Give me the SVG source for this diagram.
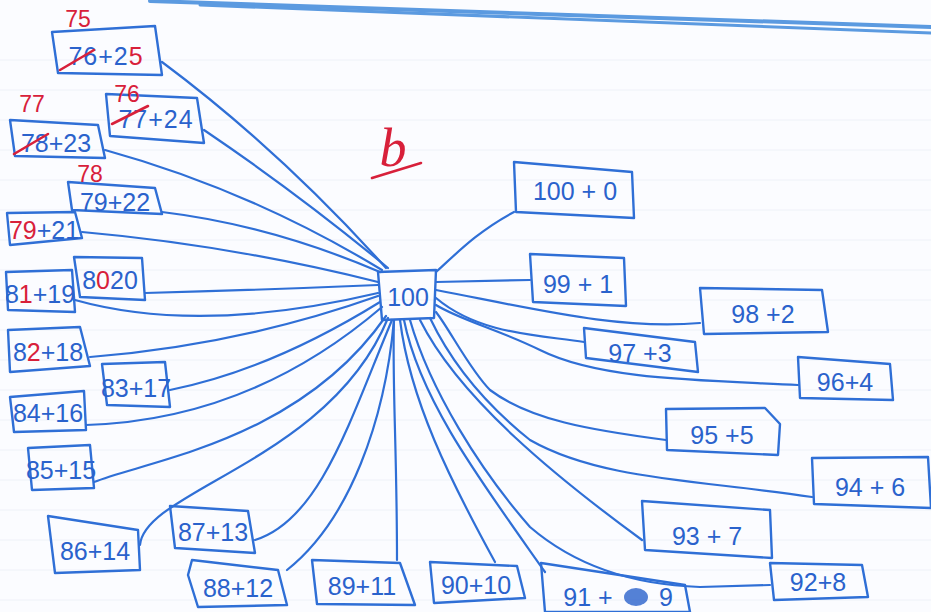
<svg xmlns="http://www.w3.org/2000/svg" width="931" height="612" viewBox="0 0 931 612">
<style>
.box{fill:none;stroke:#2f6fd6;stroke-width:2.4;stroke-linejoin:round}
.t{font-family:"Liberation Sans","DejaVu Sans",sans-serif;font-size:25px;fill:#2a62cc;text-anchor:middle}
.r{fill:#d8203a}
.rt{font-family:"Liberation Sans","DejaVu Sans",sans-serif;font-size:23px;fill:#d8203a;text-anchor:middle}
.rs{stroke:#d8203a;stroke-width:2.6;fill:none;stroke-linecap:round}
.c{fill:none;stroke:#2f6fd6;stroke-width:2.2;stroke-linecap:round}
</style>
<rect width="931" height="612" fill="#fbfcff"/>
<g id="paper" stroke="#eef1f8" stroke-width="1">
<path d="M0,60H931M0,90H931M0,120H931M0,150H931M0,180H931M0,210H931M0,240H931M0,270H931M0,300H931M0,330H931M0,360H931M0,390H931M0,420H931M0,450H931M0,480H931M0,510H931M0,540H931M0,570H931M0,600H931"/>
</g>
<g id="margin" fill="none" stroke="#5b9ae0" stroke-linecap="round">
<path d="M150,1 L931,27" stroke-width="4"/>
<path d="M200,5 L931,33" stroke-width="3"/>
</g>
<g id="title">
<text x="393" y="166" font-family="Liberation Serif,serif" font-style="italic" font-size="54" fill="#d8203a" text-anchor="middle">b</text>
<path class="rs" d="M372,178 L421,163"/>
</g>
<g id="connectors">
<path class="c" d="M162,62 Q280,150 386,268"/>
<path class="c" d="M204,130 Q300,195 388,268"/>
<path class="c" d="M105,150 Q250,190 382,270"/>
<path class="c" d="M162,212 Q270,225 380,272"/>
<path class="c" d="M82,232 Q230,245 378,282"/>
<path class="c" d="M145,293 Q260,290 378,285"/>
<path class="c" d="M75,300 Q200,335 378,293"/>
<path class="c" d="M90,357 Q240,345 378,296"/>
<path class="c" d="M170,390 Q270,370 380,302"/>
<path class="c" d="M86,425 Q250,420 382,307"/>
<path class="c" d="M94,482 C150,460 300,440 386,316"/>
<path class="c" d="M140,545 C145,490 330,460 388,318"/>
<path class="c" d="M255,540 C320,520 350,420 392,320"/>
<path class="c" d="M287,570 C350,520 385,420 394,320"/>
<path class="c" d="M397,560 C397,450 392,380 394,320"/>
<path class="c" d="M495,562 C450,480 410,400 400,320"/>
<path class="c" d="M545,572 C480,480 420,400 404,320"/>
<path class="c" d="M770,585 L700,587 C640,585 580,570 530,527 C480,470 430,390 410,320"/>
<path class="c" d="M642,540 C560,480 460,400 420,320"/>
<path class="c" d="M812,497 C700,480 600,480 530,440 C480,400 450,360 430,318"/>
<path class="c" d="M666,440 C590,430 530,420 490,390 C470,370 450,330 436,312"/>
<path class="c" d="M798,385 C700,380 600,380 540,350 C500,330 460,320 436,305"/>
<path class="c" d="M584,342 C540,335 480,335 436,298"/>
<path class="c" d="M700,323 C620,330 540,310 436,290"/>
<path class="c" d="M530,280 L436,282"/>
<path class="c" d="M514,212 C480,230 460,250 436,272"/>
</g>
<g id="n100center"><polygon class="box" points="378,272 436,270 434,318 382,320"/><text class="t" x="408" y="306" font-size="28">100</text></g>
<g id="n75"><polygon class="box" points="52,32 155,26 162,75 58,73"/><text class="t" x="106" y="65" letter-spacing="1">76+2<tspan class="r">5</tspan></text><path class="rs" d="M60,70 L94,50"/><text class="rt" x="78" y="27">75</text></g>
<g id="n76"><polygon class="box" points="106,94 197,98 204,143 110,136"/><text class="t" x="156" y="128" font-size="24" letter-spacing="1">77+24</text><path class="rs" d="M112,124 L148,106"/><text class="rt" x="127" y="102">76</text></g>
<g id="n77"><polygon class="box" points="10,120 98,125 105,158 15,156"/><text class="t" x="56" y="152" font-size="24">78+23</text><path class="rs" d="M14,154 L48,134"/><text class="rt" x="32" y="112">77</text></g>
<g id="n78"><polygon class="box" points="68,182 155,188 162,214 72,210"/><text class="t" x="115" y="211" font-size="22">79+22</text><text class="rt" x="90" y="182">78</text></g>
<g id="n79"><polygon class="box" points="7,213 75,212 82,238 10,245"/><text class="t" x="44" y="239" font-size="22"><tspan class="r">79</tspan>+21</text></g>
<g id="n80"><polygon class="box" points="74,257 142,258 145,300 80,297"/><text class="t" x="110" y="289" font-size="23">8<tspan class="r">0</tspan>20</text></g>
<g id="n81"><polygon class="box" points="6,272 72,270 75,312 8,310"/><text class="t" x="40" y="303" font-size="22">8<tspan class="r">1</tspan>+19</text></g>
<g id="n82"><polygon class="box" points="8,330 80,327 90,366 10,372"/><text class="t" x="48" y="361" font-size="24">8<tspan class="r">2</tspan>+18</text></g>
<g id="n83"><polygon class="box" points="102,364 165,362 170,407 107,405"/><text class="t" x="136" y="397" font-size="22">83+17</text></g>
<g id="n84"><polygon class="box" points="10,397 84,391 86,430 14,432"/><text class="t" x="48" y="422" font-size="22">84+16</text></g>
<g id="n85"><polygon class="box" points="28,448 90,445 94,488 32,490"/><text class="t" x="61" y="479" font-size="22">85+15</text></g>
<g id="n86"><polygon class="box" points="48,516 138,530 140,570 55,573"/><text class="t" x="95" y="560" font-size="26">86+14</text></g>
<g id="n87"><polygon class="box" points="170,506 248,511 255,553 175,548"/><text class="t" x="213" y="541" font-size="22">87+13</text></g>
<g id="n88"><polygon class="box" points="192,560 278,570 287,605 198,607 188,575"/><text class="t" x="238" y="597">88+12</text></g>
<g id="n89"><polygon class="box" points="312,560 400,563 415,605 317,604"/><text class="t" x="362" y="595">89+11</text></g>
<g id="n90"><polygon class="box" points="430,562 517,566 525,598 434,603"/><text class="t" x="476" y="594" font-size="24">90+10</text></g>
<g id="n91"><polygon class="box" points="541,563 685,585 690,612 545,612"/><text class="t" x="588" y="606">91 +</text><ellipse cx="636" cy="597" rx="12" ry="9" fill="#2a62cc" opacity="0.8"/><text class="t" x="666" y="606">9</text></g>
<g id="n92"><polygon class="box" points="770,563 862,565 868,597 774,600"/><text class="t" x="818" y="591" font-size="24">92+8</text></g>
<g id="n93"><polygon class="box" points="642,501 770,510 772,558 645,550"/><text class="t" x="707" y="545" font-size="28">93 + 7</text></g>
<g id="n94"><polygon class="box" points="812,458 928,457 931,508 814,504"/><text class="t" x="870" y="496" font-size="28">94 + 6</text></g>
<g id="n95"><polygon class="box" points="666,409 765,408 780,424 778,455 667,450"/><text class="t" x="722" y="444" font-size="28">95 +5</text></g>
<g id="n96"><polygon class="box" points="798,357 890,364 893,400 800,398"/><text class="t" x="845" y="391">96+4</text></g>
<g id="n97"><polygon class="box" points="584,328 695,342 698,372 586,358"/><text class="t" x="640" y="362">97 +3</text></g>
<g id="n98"><polygon class="box" points="700,288 822,290 828,332 704,334"/><text class="t" x="763" y="323" font-size="30">98 +2</text></g>
<g id="n99"><polygon class="box" points="530,254 624,258 626,306 533,302"/><text class="t" x="578" y="293" font-size="28">99 + 1</text></g>
<g id="n100"><polygon class="box" points="514,162 632,172 634,218 516,212"/><text class="t" x="575" y="200" font-size="28">100 + 0</text></g>
</svg>
